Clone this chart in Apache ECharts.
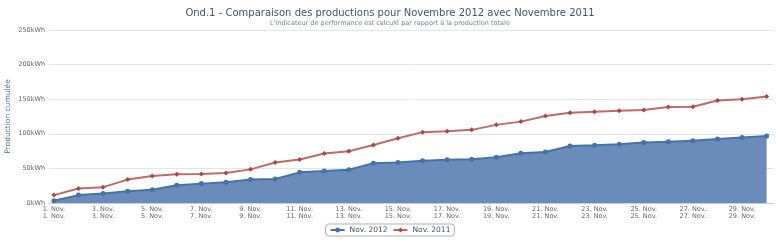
<!DOCTYPE html>
<html>
<head>
<meta charset="utf-8">
<script src="https://cdn.jsdelivr.net/npm/echarts@6/dist/echarts.min.js"></script>
<style>
  html, body { margin: 0; padding: 0; background: #fff; }
  #chart { width: 780px; height: 244px; }
</style>
</head>
<body>
<div id="chart"></div>
<script>
// day of month, 1..30
const days = Array.from({ length: 30 }, (_, i) => i + 1)
// cumulative production, kWh
const nov2012 = [3.3, 11.4, 13.8, 17, 19, 25.7, 28, 30, 33.8, 34.8, 44.3, 46.2, 48, 57.6, 58.4,
  61, 62.4, 63.3, 66.2, 71.9, 73.8, 82.4, 83.3, 84.8, 87.6, 88.6, 90, 92.4, 94.8, 96.7]
const nov2011 = [11.4, 21, 22.9, 33.8, 39, 41.4, 41.9, 43.3, 48.6, 58.6, 62.9, 71.4, 74.8, 83.8, 93.5,
  102.4, 103.8, 105.7, 112.9, 117.6, 125.8, 130.3, 131.8, 133.3, 134.3, 138.6, 139, 148, 150, 153.8]
const labelDays = [0, 2, 4, 6, 8, 10, 12, 14, 16, 18, 20, 22, 24, 26, 28]

const font = 'DejaVu Sans'
const chart = echarts.init(document.getElementById('chart'))

chart.setOption({
  animation: false,
  backgroundColor: '#fff',
  title: {
    text: 'Ond.1 - Comparaison des productions pour Novembre 2012 avec Novembre 2011',
    subtext: "L'indicateur de performance est calculé par rapport à la production totale",
    left: 'center',
    top: 3,
    itemGap: 2,
    textStyle: { color: '#3e576f', fontSize: 10, fontWeight: 'normal', fontFamily: font },
    subtextStyle: { color: '#6d869f', fontSize: 6.5, fontFamily: font }
  },
  legend: {
    bottom: 8,
    left: 'center',
    itemWidth: 14,
    itemHeight: 6,
    itemGap: 5,
    padding: [2, 4],
    borderColor: '#b0b0b0',
    borderWidth: 1,
    borderRadius: 3,
    textStyle: { color: '#3e576f', fontSize: 7.5, fontFamily: font },
    data: ['Nov. 2012', 'Nov. 2011']
  },
  grid: { left: 49, right: 6, top: 30, bottom: 41, outerBoundsMode: 'none' },
  xAxis: {
    type: 'value',
    min: -0.2,
    max: 29.3,
    axisLine: { lineStyle: { color: '#c0d0e0' } },
    axisTick: { show: false },
    splitLine: { show: false },
    axisLabel: {
      customValues: labelDays,
      color: '#666',
      fontSize: 6.5,
      lineHeight: 7,
      fontFamily: font,
      margin: 3,
      formatter: v => `${days[v]}. Nov.\n${days[v]}. Nov.`
    }
  },
  yAxis: {
    type: 'value',
    min: 0,
    max: 250,
    interval: 50,
    name: 'Production cumulée',
    nameLocation: 'middle',
    nameGap: 37,
    nameMoveOverlap: false,
    nameTextStyle: { color: '#4d759e', fontSize: 7.5, fontFamily: font },
    axisLine: { show: false },
    axisTick: { show: false },
    axisLabel: { color: '#666', fontSize: 6.5, fontFamily: font, margin: 4, formatter: '{value}kWh' },
    splitLine: { lineStyle: { color: '#e4e4e4' } }
  },
  series: [
    {
      name: 'Nov. 2012',
      type: 'line',
      data: nov2012.map((v, i) => [i, v]),
      symbol: 'circle',
      symbolSize: 5,
      color: '#4572a7',
      lineStyle: { width: 2, color: '#4572a7' },
      itemStyle: { color: '#4572a7' },
      areaStyle: { color: '#6b8cba', opacity: 1 },
      z: 2
    },
    {
      name: 'Nov. 2011',
      type: 'line',
      data: nov2011.map((v, i) => [i, v]),
      symbol: 'diamond',
      symbolSize: 5,
      color: '#aa4643',
      lineStyle: { width: 2, color: '#c06b68' },
      itemStyle: { color: '#aa4643' },
      z: 3
    }
  ]
})
</script>
</body>
</html>
